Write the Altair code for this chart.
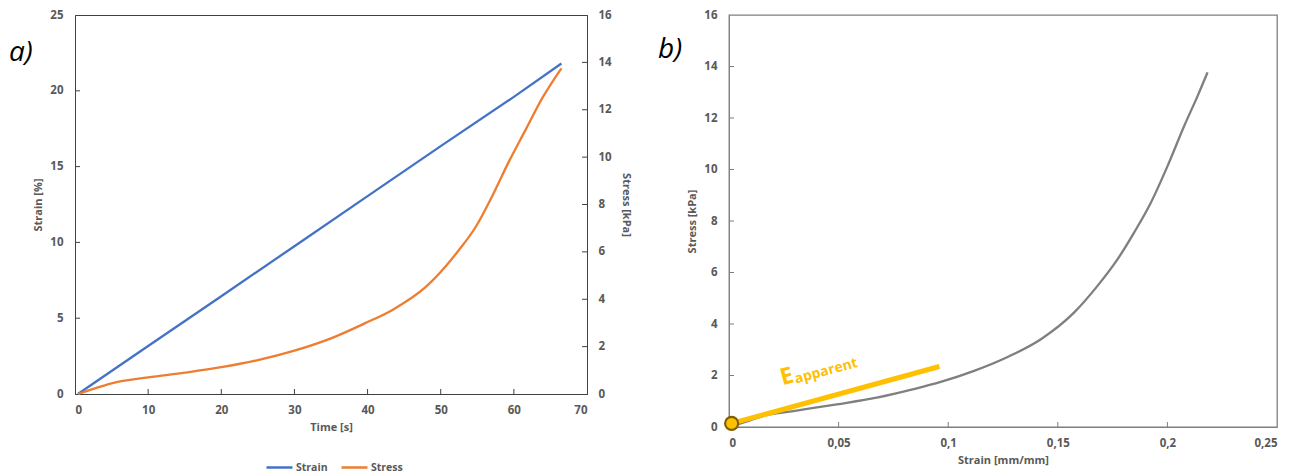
import altair as alt
import pandas as pd

# ---------------- data ----------------
panel_labels = ["a)", "b)"]
series_names = ["Strain", "Stress"]
series_colors = ["#4472C4", "#ED7D31"]

# panel a) : strain vs time
strain_time_s = [0.4, 10, 20, 30, 40, 50, 60, 66.5]
strain_pct = [0, 3.17, 6.45, 9.75, 13.05, 16.35, 19.6, 21.8]

# panel a) : stress vs time
stress_time_s = [0.45, 2.73, 5, 10, 15, 20, 25, 30, 35, 39.6, 43.4, 48, 52.5,
                 54.8, 57, 59.3, 61.6, 63.9, 66.5]
stress_kpa = [0, 0.24, 0.45, 0.70, 0.90, 1.13, 1.43, 1.83, 2.35, 2.98, 3.55, 4.53, 6.08,
              7.06, 8.33, 9.8, 11.15, 12.5, 13.75]

# panel b) : stress vs strain
curve_strain = [0, 0.009, 0.0165, 0.0294, 0.0492, 0.0674, 0.0842, 0.0966, 0.1118, 0.1271,
                0.1423, 0.1575, 0.1681, 0.1773, 0.1848, 0.1925, 0.2001, 0.2077, 0.2138, 0.2183]
curve_stress = [0, 0.24, 0.45, 0.62, 0.88, 1.14, 1.47, 1.75, 2.18, 2.72,
                3.41, 4.45, 5.48, 6.52, 7.55, 8.72, 10.14, 11.7, 12.86, 13.77]

# apparent modulus line and origin marker
fit_strain = [0.0012, 0.096]
fit_stress = [0.14, 2.35]
origin_strain = [0.0012]
origin_stress = [0.14]

# annotation
label_main = ["E"]
label_main_at = ([0.0244], [1.62])
label_sub = ["apparent"]
label_sub_at = ([0.0306], [1.69])

# tick values
left_x_ticks = [0, 10, 20, 30, 40, 50, 60, 70]
left_strain_ticks = [0, 5, 10, 15, 20, 25]
left_stress_ticks = [0, 2, 4, 6, 8, 10, 12, 14, 16]
right_x_ticks = [0, 0.05, 0.1, 0.15, 0.2, 0.25]
right_y_ticks = [0, 2, 4, 6, 8, 10, 12, 14, 16]

# ---------------- style ----------------
FONT = "Open Sans"
TXT = "#595959"
AX_DARK = "#404040"
AX_GRAY = "#7f7f7f"
GOLD = "#FFC000"
W1, H1 = 512, 379
W2, H2 = 548, 412
TK = 5

# ---------------- panel a ----------------
x_a = alt.X("time:Q", scale=alt.Scale(domain=[0, 70], nice=False, zero=False),
            axis=alt.Axis(title="Time [s]", values=left_x_ticks, labelPadding=10,
                          titlePadding=6, domainColor=AX_DARK))
y_strain = alt.Y("strain:Q", scale=alt.Scale(domain=[0, 25], nice=False),
                 axis=alt.Axis(title="Strain [%]", values=left_strain_ticks, orient="left",
                               labelPadding=12, titlePadding=6, domainColor=AX_DARK))
y_stress = alt.Y("stress:Q", scale=alt.Scale(domain=[0, 16], nice=False),
                 axis=alt.Axis(title="Stress [kPa]", values=left_stress_ticks, orient="right",
                               labelPadding=11, titlePadding=9, domainColor=AX_DARK))
color = alt.Color("series:N",
                  scale=alt.Scale(domain=series_names, range=series_colors),
                  legend=alt.Legend(title=None, orient="none", legendX=190, legendY=438,
                                    direction="horizontal", symbolType="stroke",
                                    symbolSize=676, symbolStrokeWidth=2.5,
                                    labelFont=FONT, labelFontSize=10.5, labelFontWeight="bold",
                                    labelColor=TXT, columnPadding=8, labelOffset=2))

df_strain = pd.DataFrame({"time": strain_time_s, "strain": strain_pct, "series": series_names[0]})
df_stress = pd.DataFrame({"time": stress_time_s, "stress": stress_kpa, "series": series_names[1]})

strain_line = alt.Chart(df_strain).mark_line(strokeWidth=2.3).encode(x=x_a, y=y_strain, color=color)
stress_line = alt.Chart(df_stress).mark_line(strokeWidth=2.3, interpolate="monotone").encode(
    x=x_a, y=y_stress, color=color)

strain_ticks = alt.Chart(pd.DataFrame({"strain": left_strain_ticks[1:-1]})).mark_rule(
    color=AX_DARK).encode(y=y_strain, x=alt.value(0), x2=alt.value(TK))
xa_ticks = alt.Chart(pd.DataFrame({"time": left_x_ticks[1:-1]})).mark_rule(
    color=AX_DARK).encode(x=x_a, y=alt.value(H1 - TK), y2=alt.value(H1))
stress_ticks = alt.Chart(pd.DataFrame({"stress": left_stress_ticks[1:-1]})).mark_rule(
    color=AX_DARK).encode(y=y_stress, x=alt.value(W1 - TK), x2=alt.value(W1))
label_a = alt.Chart(pd.DataFrame({"t": [panel_labels[0]]})).mark_text(
    align="left", baseline="middle", fontSize=28, fontStyle="italic", font=FONT,
    color="black").encode(x=alt.value(-66), y=alt.value(38), text="t:N")

left = alt.layer(
    alt.layer(strain_line, strain_ticks, xa_ticks, label_a),
    alt.layer(stress_line, stress_ticks),
).resolve_scale(y="independent").properties(
    width=W1, height=H1, view=alt.ViewBackground(stroke=AX_DARK, strokeWidth=1))

# ---------------- panel b ----------------
x_b = alt.X("strain:Q", scale=alt.Scale(domain=[0, 0.25], nice=False),
            axis=alt.Axis(title="Strain [mm/mm]", values=right_x_ticks, format="~g",
                          labelExpr="replace(datum.label, '.', ',')", labelPadding=10,
                          titlePadding=6, domainColor=AX_GRAY))
y_b = alt.Y("stress:Q", scale=alt.Scale(domain=[0, 16], nice=False),
            axis=alt.Axis(title="Stress [kPa]", values=right_y_ticks, labelPadding=12,
                          titlePadding=6, domainColor=AX_GRAY))

df_curve = pd.DataFrame({"strain": curve_strain, "stress": curve_stress})
df_fit = pd.DataFrame({"strain": fit_strain, "stress": fit_stress})
df_origin = pd.DataFrame({"strain": origin_strain, "stress": origin_stress})
df_E = pd.DataFrame({"strain": label_main_at[0], "stress": label_main_at[1], "t": label_main})
df_sub = pd.DataFrame({"strain": label_sub_at[0], "stress": label_sub_at[1], "t": label_sub})

curve = alt.Chart(df_curve).mark_line(color="#7F7F7F", strokeWidth=2.3,
                                      interpolate="monotone").encode(x=x_b, y=y_b)
fit = alt.Chart(df_fit).mark_line(color=GOLD, strokeWidth=5, strokeCap="butt").encode(x=x_b, y=y_b)
origin = alt.Chart(df_origin).mark_point(shape="circle", filled=True, fill=GOLD, stroke="#7F6000",
                                         strokeWidth=2.2, size=170, opacity=1).encode(x=x_b, y=y_b)
txt_E = alt.Chart(df_E).mark_text(align="left", baseline="alphabetic", angle=345, fontSize=23,
                                  fontWeight="bold", font=FONT, color=GOLD).encode(
    x=x_b, y=y_b, text="t:N")
txt_sub = alt.Chart(df_sub).mark_text(align="left", baseline="alphabetic", angle=345, fontSize=14,
                                      fontWeight="bold", font=FONT, color=GOLD).encode(
    x=x_b, y=y_b, text="t:N")
xb_ticks = alt.Chart(pd.DataFrame({"strain": right_x_ticks[1:-1]})).mark_rule(
    color=AX_GRAY).encode(x=x_b, y=alt.value(H2 - TK), y2=alt.value(H2))
yb_ticks = alt.Chart(pd.DataFrame({"stress": right_y_ticks[1:-1]})).mark_rule(
    color=AX_GRAY).encode(y=y_b, x=alt.value(0), x2=alt.value(TK))
label_b = alt.Chart(pd.DataFrame({"t": [panel_labels[1]]})).mark_text(
    align="left", baseline="middle", fontSize=28, fontStyle="italic", font=FONT,
    color="black").encode(x=alt.value(-71), y=alt.value(35), text="t:N")

right = alt.layer(curve, fit, origin, txt_E, txt_sub, xb_ticks, yb_ticks, label_b).properties(
    width=W2, height=H2, view=alt.ViewBackground(stroke=AX_GRAY, strokeWidth=1.3))

chart = alt.hconcat(left, right, spacing=25).properties(
    padding={"left": 0, "top": 0, "right": 0, "bottom": 0}
).configure_axis(
    labelFont=FONT, labelFontSize=11.5, labelFontWeight="bold", labelColor=TXT,
    titleFont=FONT, titleFontSize=11, titleFontWeight="bold", titleColor=TXT,
    grid=False, ticks=False, tickSize=0, domainWidth=1
)

chart.save("out.html", embed_options={"renderer": "svg", "actions": False})
